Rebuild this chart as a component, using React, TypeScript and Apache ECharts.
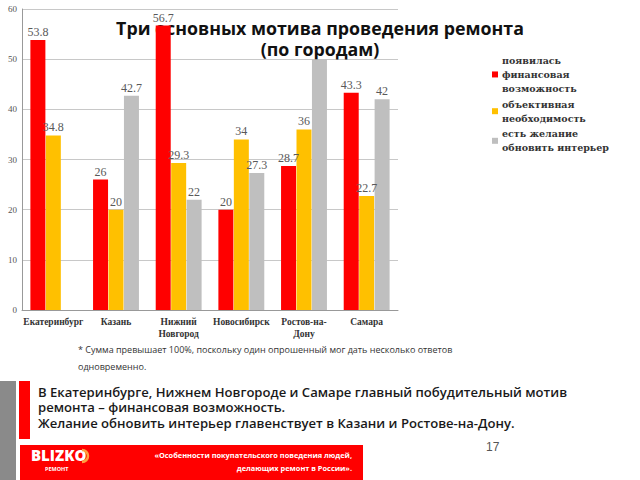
import React, { useEffect, useRef } from "react";
import * as echarts from "echarts";

const cities = ["Екатеринбург", "Казань", "Нижний\nНовгород", "Новосибирск", "Ростов-на-\nДону", "Самара"];
const seriesNames = ["появилась\nфинансовая\nвозможность", "объективная\nнеобходимость", "есть желание\nобновить интерьер"];
const financial = [53.8, 26, 56.7, 20, 28.7, 43.3];
const objective = [34.8, 20, 29.3, 34, 36, 22.7];
const interior: (number | null)[] = [null, 42.7, 22, 27.3, 50, 42];
const hiddenLabelIdx = [4]; // interior label covered by title box
const yTicks = { min: 0, max: 60, interval: 10 };
const colors = ["#FF0000", "#FFC000", "#BFBFBF"];

const titleText = "Три основных мотива проведения ремонта\n(по городам)";
const footnote1 = "* Сумма превышает 100%, поскольку один опрошенный мог дать несколько ответов";
const footnote2 = "одновременно.";
const caption = [
  "В Екатеринбурге, Нижнем Новгороде и Самаре главный побудительный мотив",
  "ремонта – финансовая возможность.",
  "Желание обновить интерьер главенствует в Казани и Ростове-на-Дону.",
];
const footerText = ["«Особенности покупательского поведения людей,", "делающих ремонт в России»."];
const pageNum = "17";

export default function App() {
  const ref = useRef<HTMLDivElement>(null);
  useEffect(() => {
    if (!ref.current) return;
    const chart = echarts.init(ref.current, undefined, { renderer: "svg" });
    const labelStyle = {
      show: true,
      position: "top" as const,
      distance: 2,
      fontFamily: "Liberation Serif",
      fontSize: 12,
      color: "#595959",
    };
    const mk = (name: string, data: (number | null)[], color: string, hide: number[] = []) => ({
      name,
      type: "bar" as const,
      barWidth: 15,
      barGap: "3%",
      z: 2,
      itemStyle: { color },
      label: labelStyle,
      data: data.map((v, i) => (hide.includes(i) ? { value: v, label: { show: false } } : v)),
    });
    chart.setOption({
      animation: false,
      backgroundColor: "#ffffff",
      title: {
        text: titleText,
        left: "center",
        top: 13,
        z: 1,
        textStyle: {
          fontFamily: "Open Sans",
          fontWeight: "bold",
          fontSize: 17.8,
          lineHeight: 20.5,
          color: "#111111",
        },
      },
      grid: { left: 22, right: 242, top: 9, bottom: 170 },
      legend: {
        orient: "vertical",
        left: 487,
        top: 48,
        icon: "rect",
        itemWidth: 6,
        itemHeight: 6,
        itemGap: 1,
        data: seriesNames,
        textStyle: {
          fontFamily: "DejaVu Serif",
          fontWeight: "bold",
          fontSize: 9.5,
          lineHeight: 14.3,
          color: "#333333",
          padding: [0, 0, 0, -1],
        },
      },
      xAxis: {
        type: "category",
        data: cities,
        axisTick: { show: false },
        axisLine: { lineStyle: { color: "#999999" } },
        axisLabel: {
          interval: 0,
          margin: 6,
          fontFamily: "Liberation Serif",
          fontWeight: "bold",
          fontSize: 9.5,
          lineHeight: 12,
          color: "#333333",
        },
      },
      yAxis: {
        type: "value",
        min: yTicks.min,
        max: yTicks.max,
        interval: yTicks.interval,
        axisLine: { show: true, lineStyle: { color: "#999999" } },
        axisTick: { show: false },
        axisLabel: {
          margin: 5,
          fontFamily: "Liberation Serif",
          fontSize: 9,
          color: "#555555",
        },
        splitLine: { lineStyle: { color: "#C8C8C8" } },
      },
      series: [
        mk(seriesNames[0], financial, colors[0]),
        mk(seriesNames[1], objective, colors[1]),
        mk(seriesNames[2], interior, colors[2], hiddenLabelIdx),
      ],
      graphic: [
        {
          type: "text",
          x: 78,
          y: 345,
          style: { text: footnote1, fontFamily: "Open Sans", fontSize: 9, fill: "#333333" },
        },
        {
          type: "text",
          x: 78,
          y: 362,
          style: { text: footnote2, fontFamily: "Open Sans", fontSize: 9, fill: "#333333" },
        },
        { type: "rect", shape: { x: 0, y: 381, width: 16, height: 99 }, style: { fill: "#8A8A8A" } },
        { type: "rect", shape: { x: 19, y: 381, width: 11, height: 58 }, style: { fill: "#FF0000" } },
        {
          type: "text",
          x: 38,
          y: 384,
          style: {
            text: caption.join("\n"),
            fontFamily: "Open Sans",
            fontWeight: 600,
            fontSize: 13.1,
            lineHeight: 15.5,
            fill: "#1a1a1a",
          },
        },
        { type: "rect", shape: { x: 20, y: 445, width: 343, height: 35 }, style: { fill: "#FF0000" } },
        {
          type: "text",
          x: 352,
          y: 448,
          style: {
            text: footerText.join("\n"),
            fontFamily: "Open Sans",
            fontWeight: "bold",
            fontSize: 7.4,
            lineHeight: 13,
            fill: "#ffffff",
            align: "right",
          },
        },
        {
          type: "text",
          x: 31,
          y: 447,
          style: {
            text: "BLIZKO",
            fontFamily: "Open Sans",
            fontWeight: 800,
            fontSize: 15,
            fill: "#ffffff",
          },
        },
        {
          type: "arc",
          shape: { cx: 82, cy: 456, r: 6, startAngle: -Math.PI / 2, endAngle: Math.PI / 2 },
          style: { stroke: "#FFA040", lineWidth: 2.5, fill: "none" },
        },
        {
          type: "text",
          x: 45,
          y: 466,
          style: { text: "РЕМОНТ", fontFamily: "Open Sans", fontWeight: "bold", fontSize: 5.5, fill: "#ffffff" },
        },
        {
          type: "text",
          x: 486,
          y: 441,
          style: { text: pageNum, fontFamily: "Liberation Sans", fontSize: 12, fill: "#555555" },
        },
      ],
    });
    return () => chart.dispose();
  }, []);
  return (
    <div
      ref={ref}
      style={{ position: "absolute", left: 0, top: 0, width: 640, height: 480 }}
    />
  );
}
